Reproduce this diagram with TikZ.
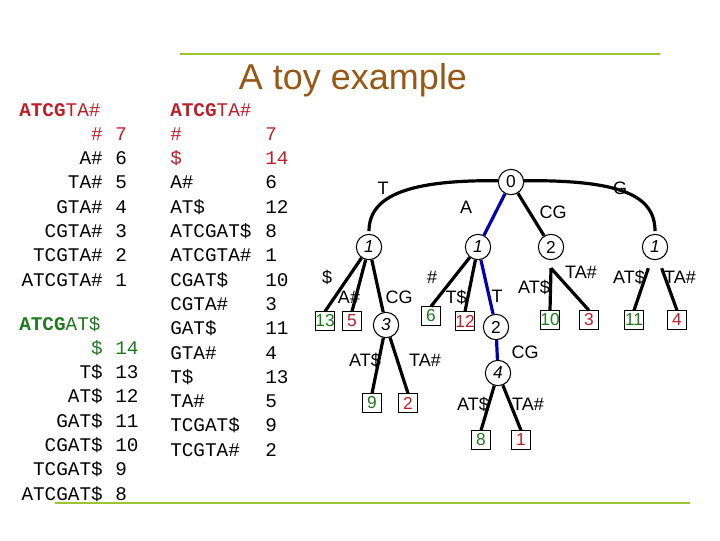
\documentclass[tikz,border=0pt]{standalone}
\usepackage{fontspec}
\setmainfont{Liberation Sans}
\newfontfamily\cour{Liberation Mono}
\begin{document}
\begin{tikzpicture}[x=0.75pt,y=-0.75pt,
  mono/.style={font=\cour\fontsize{14.5}{16}\selectfont,inner sep=0pt},
  rt/.style={mono,anchor=base east},
  lf/.style={mono,anchor=base west},
  cn/.style={circle,draw,thick,minimum size=19pt,inner sep=0pt,font=\fontsize{13}{15}\selectfont},
  lv/.style={draw,minimum size=14pt,inner sep=0pt,font=\fontsize{13}{15}\selectfont},
  el/.style={font=\fontsize{13.5}{15}\selectfont,inner sep=1pt},
  ed/.style={line width=2.4pt},
  bl/.style={line width=2.4pt,draw=blue!70!black}]
\definecolor{lgreen}{RGB}{154,196,50}
\definecolor{tred}{RGB}{190,30,40}
\definecolor{tgreen}{RGB}{30,120,30}
\definecolor{brown}{RGB}{150,88,20}
\useasboundingbox (0,0) rectangle (720,540);
\draw[lgreen,line width=2.2pt] (180,54) -- (660,54);
\draw[lgreen,line width=2.2pt] (55,503) -- (690,503);
\node[font=\fontsize{27}{30}\selectfont,text=brown] (title) at (353,80) {A toy example};
% left column
\node[lf,text=tred] (s0) at (19,116) {\textbf{ATCG}TA\#};
\node[rt,text=tred] (a1) at (103,140.3) {\#};
\node[lf,text=tred] (an1) at (115,140.3) {7};
\foreach \t/\n [count=\k from 2] in {A\#/6,TA\#/5,GTA\#/4,CGTA\#/3,TCGTA\#/2,ATCGTA\#/1}{
  \node[rt] (a\k) at (103,{116+24.3*\k}) {\t};
  \node[lf] (an\k) at (115,{116+24.3*\k}) {\n};}
\node[lf,text=tgreen] (s1) at (19,330) {\textbf{ATCG}AT\$};
\node[rt,text=tgreen] (b1) at (103,354.3) {\$};
\node[lf,text=tgreen] (bn1) at (115,354.3) {14};
\foreach \t/\n [count=\k from 2] in {T\$/13,AT\$/12,GAT\$/11,CGAT\$/10,TCGAT\$/9,ATCGAT\$/8}{
  \node[rt] (b\k) at (103,{330+24.3*\k}) {\t};
  \node[lf] (bn\k) at (115,{330+24.3*\k}) {\n};}
% middle column
\node[lf,text=tred] (s2) at (170,116) {\textbf{ATCG}TA\#};
\node[lf,text=tred] (c1) at (170,140.3) {\#};
\node[lf,text=tred] (cn1) at (265,140.3) {7};
\node[lf,text=tred] (c2) at (170,164.6) {\$};
\node[lf,text=tred] (cn2) at (265,164.6) {14};
\foreach \t/\n [count=\k from 3] in {A\#/6,AT\$/12,ATCGAT\$/8,ATCGTA\#/1,CGAT\$/10,CGTA\#/3,GAT\$/11,GTA\#/4,T\$/13,TA\#/5,TCGAT\$/9,TCGTA\#/2}{
  \node[lf] (c\k) at (170,{116+24.3*\k}) {\t};
  \node[lf] (cn\k) at (265,{116+24.3*\k}) {\n};}
% tree
\node[cn] (r) at (511,182) {0};
\node[cn] (n1) at (369,247) {\itshape 1};
\node[cn] (n2) at (478,247) {\itshape 1};
\node[cn] (n3) at (551,247) {2};
\node[cn] (n4) at (655,247) {\itshape 1};
\node[cn] (n5) at (386,325) {\itshape 3};
\node[cn] (n6) at (496,327) {2};
\node[cn] (n7) at (498,373) {\itshape 4};
\node[lv,text=tgreen] (l13) at (325,321) {13};
\node[lv,text=tred] (l5) at (352,321) {5};
\node[lv,text=tgreen] (l6) at (431,316) {6};
\node[lv,text=tred] (l12) at (465,321) {12};
\node[lv,text=tgreen] (l10) at (550,320) {10};
\node[lv,text=tred] (l3) at (589,320) {3};
\node[lv,text=tgreen] (l11) at (634,320) {11};
\node[lv,text=tred] (l4) at (677,320) {4};
\node[lv,text=tgreen] (l9) at (372,403) {9};
\node[lv,text=tred] (l2) at (408,403) {2};
\node[lv,text=tgreen] (l8) at (481,440) {8};
\node[lv,text=tred] (l1) at (521,440) {1};
\draw[ed] ([yshift=1pt]r.west) .. controls (410,180) and (369,195) .. ([yshift=2pt]n1.north);
\draw[ed] ([yshift=1pt]r.east) .. controls (620,180) and (655,195) .. ([yshift=2pt]n4.north);
\draw[bl] (r) -- (n2);
\draw[ed] (r) -- (n3);
\draw[ed] (n1) -- (l13.north); \draw[ed] (n1) -- (l5.north); \draw[ed] (n1) -- (n5);
\draw[ed] (n2) -- (l6.north); \draw[ed] (n2) -- (l12.north); \draw[bl] (n2) -- (n6);
\draw[bl] (n6) -- (n7);
\draw[ed] (n7) -- (l8.north); \draw[ed] (n7) -- (l1.north);
\draw[ed] (n5) -- (l9.north); \draw[ed] (n5) -- (l2.north);
\draw[ed] ([yshift=-6pt]n3.south) -- (l10.north); \draw[ed] ([yshift=-6pt]n3.south) -- (l3.north);
\draw[ed] ([xshift=-5pt,yshift=-6pt]n4.south) -- (l11.north); \draw[ed] ([xshift=5pt,yshift=-6pt]n4.south) -- (l4.north);
% edge labels
\node[el] (e1) at (383,188) {T};
\node[el] (e2) at (466,207) {A};
\node[el] (e3) at (553,212) {CG};
\node[el] (e4) at (620,188) {G};
\node[el] (e5) at (327,277) {\$};
\node[el] (e6) at (349,297) {A\#};
\node[el] (e7) at (399,297) {CG};
\node[el] (e8) at (432,277) {\#};
\node[el] (e9) at (456,297) {T\$};
\node[el] (e10) at (497,296) {T};
\node[el] (e11) at (534,287) {AT\$};
\node[el] (e12) at (581,272) {TA\#};
\node[el] (e13) at (629,277) {AT\$};
\node[el] (e14) at (680,277) {TA\#};
\node[el] (e15) at (525,352) {CG};
\node[el] (e16) at (365,360) {AT\$};
\node[el] (e17) at (425,360) {TA\#};
\node[el] (e18) at (473,404) {AT\$};
\node[el] (e19) at (528,404) {TA\#};
\end{tikzpicture}
\end{document}
